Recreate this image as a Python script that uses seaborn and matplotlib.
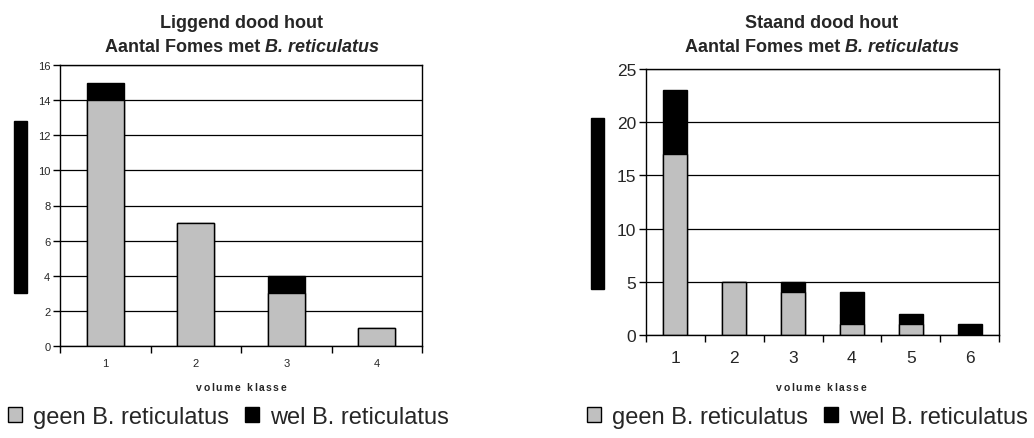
import matplotlib
matplotlib.use("Agg")
import matplotlib.pyplot as plt
from matplotlib.patches import Rectangle
import seaborn as sns
import pandas as pd
import numpy as np

# ---- data ----
klasse_liggend = ["1", "2", "3", "4"]
geen_liggend = [14, 7, 3, 1]
wel_liggend = [1, 0, 1, 0]

klasse_staand = ["1", "2", "3", "4", "5", "6"]
geen_staand = [17, 5, 4, 1, 1, 0]
wel_staand = [6, 0, 1, 3, 1, 1]

titel1_liggend = "Liggend dood hout"
titel1_staand = "Staand dood hout"
titel2_normal = "Aantal Fomes met "
titel2_italic = "B. reticulatus"
xlabel = "volume klasse"
legend_labels = ["geen B. reticulatus", "wel B. reticulatus"]

GRAY = "#C0C0C0"

sns.set_style("white")
plt.rcParams["font.family"] = ["Liberation Sans", "DejaVu Sans"]

fig = plt.figure(figsize=(10.34, 4.39), dpi=100)
W, H = 1034, 439


def axrect(l, t, r, b):
    return [l / W, 1 - b / H, (r - l) / W, (b - t) / H]


def panel(ax, cats, geen, wel, ymax, ystep, tick_fs, xtick_pad):
    df = pd.DataFrame({"klasse": cats,
                       "geen": geen,
                       "totaal": np.array(geen) + np.array(wel)})
    sns.barplot(data=df, x="klasse", y="totaal", color="black", width=0.41,
                saturation=1, edgecolor="black", linewidth=1, ax=ax)
    sns.barplot(data=df, x="klasse", y="geen", color=GRAY, width=0.41,
                saturation=1, edgecolor="black", linewidth=1, ax=ax)
    n = len(cats)
    ax.set_xlim(-0.5, n - 0.5)
    ax.set_ylim(0, ymax)
    ax.set_yticks(np.arange(0, ymax + 0.1, ystep))
    ax.set_axisbelow(True)
    ax.yaxis.grid(True, color="black", linewidth=0.9)
    ax.xaxis.grid(False)
    for s in ax.spines.values():
        s.set_visible(True)
        s.set_color("black")
        s.set_linewidth(1)
    ax.set_xticks(np.arange(-0.5, n), minor=True)
    ax.tick_params(axis="x", which="minor", length=5, width=1, direction="out",
                   color="black", bottom=True)
    ax.tick_params(axis="x", which="major", length=0, pad=xtick_pad,
                   labelsize=tick_fs, bottom=True)
    ax.tick_params(axis="y", which="major", length=5, width=1, direction="out",
                   color="black", labelsize=tick_fs, left=True, pad=2)
    ax.set_xlabel("")
    ax.set_ylabel("")


axL = fig.add_axes(axrect(60, 66, 422, 347))
panel(axL, klasse_liggend, geen_liggend, wel_liggend, 16, 2, 8, 9)
axR = fig.add_axes(axrect(646, 70, 999, 336))
panel(axR, klasse_staand, geen_staand, wel_staand, 25, 5, 12.5, 11)

renderer = fig.canvas.get_renderer()
TFS = 13


def title(xc_px, lines_y=(23, 48), t1=""):
    fig.text(xc_px / W, 1 - lines_y[0] / H, t1, ha="center", va="center",
             fontsize=TFS, fontweight="bold")
    y = 1 - lines_y[1] / H
    a = fig.text(0, y, titel2_normal, ha="left", va="center", fontsize=TFS,
                 fontweight="bold")
    b = fig.text(0, y, titel2_italic, ha="left", va="center", fontsize=TFS,
                 fontweight="bold", fontstyle="italic")
    wa = a.get_window_extent(renderer).width
    wb = b.get_window_extent(renderer).width
    x0 = xc_px - (wa + wb) / 2
    a.set_x(x0 / W)
    b.set_x((x0 + wa) / W)


title(242, t1=titel1_liggend)
title(822, t1=titel1_staand)


def spaced_text(xc_px, yc_px, s, fs, gap_px):
    arts = [fig.text(0, 1 - yc_px / H, ch, ha="left", va="center",
                     fontsize=fs, fontweight="bold") for ch in s]
    widths = []
    for t, ch in zip(arts, s):
        if ch == " ":
            widths.append(fs * 100 / 72 * 0.28)
        else:
            widths.append(t.get_window_extent(renderer).width)
    total = sum(widths) + gap_px * (len(s) - 1)
    x = xc_px - total / 2
    for t, w in zip(arts, widths):
        t.set_x(x / W)
        x += w + gap_px


spaced_text(241, 388, xlabel, 7.5, 1.6)
spaced_text(821, 388, xlabel, 7.5, 1.6)

# black bars at the left of each panel
fig.add_artist(Rectangle((14 / W, 1 - 294 / H), 13 / W, 172 / H,
                         transform=fig.transFigure, color="black"))
fig.add_artist(Rectangle((591 / W, 1 - 290 / H), 13 / W, 171 / H,
                         transform=fig.transFigure, color="black"))

handles = [Rectangle((0, 0), 1, 1, facecolor=GRAY, edgecolor="black", lw=1),
           Rectangle((0, 0), 1, 1, facecolor="black", edgecolor="black", lw=1)]
for xpx in (8, 587):
    fig.legend(handles, legend_labels, loc="center left",
               bbox_to_anchor=(xpx / W, 1 - 418 / H), ncol=2, frameon=False,
               fontsize=17, handlelength=0.6, handleheight=0.6,
               handletextpad=0.45, columnspacing=0.7, borderpad=0,
               borderaxespad=0)

fig.savefig("out.png", dpi=100)
